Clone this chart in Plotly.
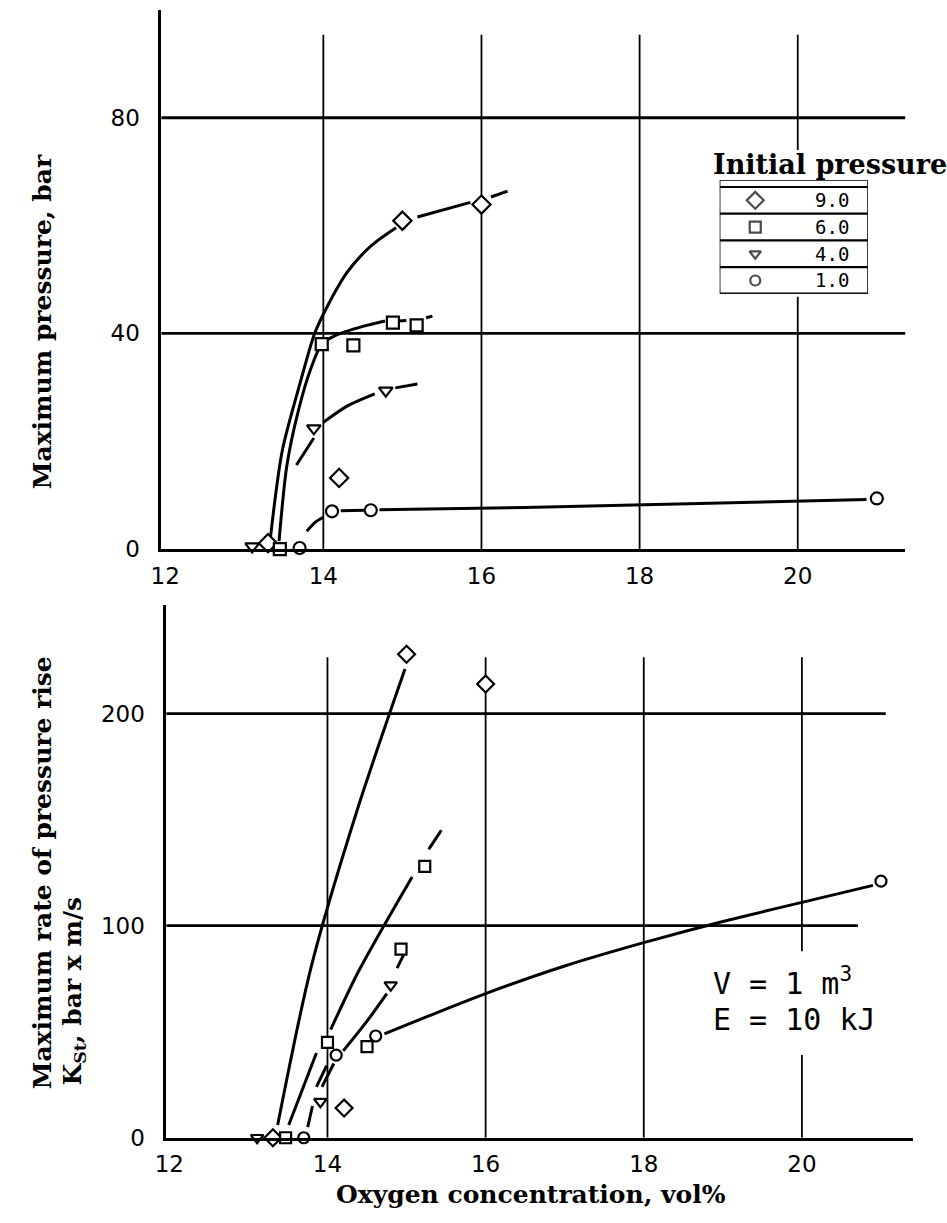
import plotly.graph_objects as go

W, H = 947, 1223


def fx(px):
    return px / W


def fy(py):
    return 1 - py / H


# ---------------- tick labels / categories ----------------
oxygen_ticks = [12, 14, 16, 18, 20]
pmax_ticks = [0, 40, 80]
kst_ticks = [0, 100, 200]
initial_pressures = ["9.0", "6.0", "4.0", "1.0"]

# ---------------- top panel: maximum pressure, bar ----------------
pmax_9_x = [13.3, 14.2, 15.0, 16.0]
pmax_9_y = [1.1, 13.2, 60.9, 63.9]
pmax_6_x = [13.45, 13.98, 14.38, 14.88, 15.18]
pmax_6_y = [0.0, 38.0, 37.8, 42.0, 41.5]
pmax_4_x = [13.1, 13.88, 14.79]
pmax_4_y = [0.5, 22.4, 29.4]
pmax_1_x = [13.7, 14.11, 14.6, 21.0]
pmax_1_y = [0.2, 7.0, 7.2, 9.4]

# hand-drawn trend curves (pieces)
pmax_9_curve = [
    ([13.33, 13.48, 13.71, 13.89, 14.05, 14.3, 14.6, 14.92], [2, 18.2, 31.0, 40.0, 45.0, 51.3, 56.2, 59.6]),
    ([15.19, 15.86], [61.6, 64.3]),
    ([16.12, 16.33], [65.3, 66.4]),
]
pmax_6_curve = [
    ([13.44, 13.54, 13.69, 13.84, 13.98, 14.15, 14.5, 14.78], [1.5, 15.6, 26.0, 33.4, 38.0, 39.6, 41.3, 42.3]),
    ([14.95, 15.05], [42.3, 42.4]),
    ([15.3, 15.38], [42.9, 43.2]),
]
pmax_4_curve = [
    ([13.66, 13.88], [15.6, 20.6]),
    ([14.0, 14.31, 14.65], [23.5, 26.6, 28.8]),
    ([14.91, 15.19], [29.9, 30.6]),
]
pmax_1_curve = [
    ([13.79, 13.9, 14.0], [3.3, 5.0, 5.9]),
    ([14.22, 14.52], [7.1, 7.2]),
    ([14.71, 16.55, 20.87], [7.3, 7.7, 9.2]),
]

# ---------------- bottom panel: K_St, bar m/s ----------------
kst_9_x = [13.31, 14.21, 15.0, 16.0]
kst_9_y = [0, 14, 228, 214]
kst_6_x = [13.47, 14.0, 14.5, 14.93, 15.23]
kst_6_y = [0, 45, 43, 89, 128]
kst_4_x = [13.11, 13.91, 14.8]
kst_4_y = [0, 17, 72]
kst_1_x = [13.7, 14.11, 14.61, 21.0]
kst_1_y = [0, 39, 48, 121]

kst_9_curve = [
    ([13.37, 13.79, 14.38, 14.98], [6, 80, 155, 221]),
]
kst_6_curve = [
    ([13.51, 13.86], [6, 40]),
    ([14.04, 14.4, 15.07], [51, 79, 123]),
    ([15.28, 15.44], [136, 145]),
]
kst_4_curve = [
    ([13.86, 13.99], [24, 34]),
    ([14.2, 14.5, 14.75], [41, 55, 68]),
    ([14.88, 14.96], [80, 86]),
]
kst_1_curve = [
    ([13.75, 13.81], [5, 15]),
    ([13.93, 14.08], [24, 35]),
    ([14.72, 15.25, 16.0, 17.0, 18.0, 19.0, 20.0, 20.9], [49, 57, 68, 81, 92, 102, 111, 119]),
]

# ---------------- figure ----------------
fig = go.Figure()

LINE_W = 3.0
SYM = {"9.0": "diamond", "6.0": "square", "4.0": "triangle-down", "1.0": "circle"}
SIZE_TOP = {"9.0": 14, "6.0": 12, "4.0": 12, "1.0": 12}
SIZE_BOT = {"9.0": 13, "6.0": 11, "4.0": 11, "1.0": 11}


def add_curve(pieces, xa, ya):
    for xs, ys in pieces:
        fig.add_trace(go.Scatter(
            x=xs, y=ys, xaxis=xa, yaxis=ya, mode="lines",
            line=dict(color="black", width=LINE_W, shape="spline", smoothing=0.8),
            showlegend=False, hoverinfo="skip"))


def add_points(xs, ys, key, xa, ya, sizes):
    fig.add_trace(go.Scatter(
        x=xs, y=ys, xaxis=xa, yaxis=ya, mode="markers",
        marker=dict(symbol=SYM[key], size=sizes[key], color="white",
                    line=dict(color="black", width=2.2)),
        showlegend=False, cliponaxis=False))


# top panel
for c in (pmax_9_curve, pmax_6_curve, pmax_4_curve, pmax_1_curve):
    add_curve(c, "x", "y")
for xs, ys, k in ((pmax_9_x, pmax_9_y, "9.0"), (pmax_6_x, pmax_6_y, "6.0"),
                  (pmax_4_x, pmax_4_y, "4.0"), (pmax_1_x, pmax_1_y, "1.0")):
    add_points(xs, ys, k, "x", "y", SIZE_TOP)

# bottom panel
for c in (kst_9_curve, kst_6_curve, kst_4_curve, kst_1_curve):
    add_curve(c, "x2", "y2")
for xs, ys, k in ((kst_9_x, kst_9_y, "9.0"), (kst_6_x, kst_6_y, "6.0"),
                  (kst_4_x, kst_4_y, "4.0"), (kst_1_x, kst_1_y, "1.0")):
    add_points(xs, ys, k, "x2", "y2", SIZE_BOT)

# legend table markers (overlay axis x3/y3 in local pixel units)
leg_row_y = [20.5, 47.5, 74.5, 101.5]
fig.add_trace(go.Scatter(
    x=[36] * len(initial_pressures), y=leg_row_y, xaxis="x3", yaxis="y3", mode="markers",
    marker=dict(symbol=[SYM[k] for k in initial_pressures], size=[13, 11, 10, 10],
                color="white", line=dict(color="black", width=2.2)),
    showlegend=False, hoverinfo="skip", cliponaxis=False))

# ---------------- axes ----------------
TICKFONT = dict(family="DejaVu Sans", size=23, color="black")
TOP_XR = [11.95, 21.3625]
BOT_XR = [11.96, 21.41]
TOP_YR = [0, 100]
BOT_YR = [0, 251]

common_x = dict(showgrid=False, zeroline=False, showline=True, linecolor="black",
                linewidth=3, ticks="", tickfont=TICKFONT, tickvals=oxygen_ticks,
                ticktext=[str(v) for v in oxygen_ticks], ticklabelstandoff=4, fixedrange=True)
common_y = dict(showgrid=False, zeroline=False, showline=True, linecolor="black",
                linewidth=2.5, ticks="", tickfont=TICKFONT, ticklabelstandoff=14, fixedrange=True)

fig.update_layout(
    width=W, height=H, margin=dict(l=0, r=0, t=0, b=0),
    paper_bgcolor="white", plot_bgcolor="rgba(0,0,0,0)",
    showlegend=False,
    xaxis=dict(common_x, domain=[fx(152), fx(905)], range=TOP_XR, anchor="y"),
    yaxis=dict(common_y, domain=[fy(555), fy(10)], range=TOP_YR, anchor="x",
               tickvals=pmax_ticks, ticktext=[str(v) for v in pmax_ticks]),
    xaxis2=dict(common_x, domain=[fx(157), fx(913)], range=BOT_XR, anchor="y2"),
    yaxis2=dict(common_y, domain=[fy(1150), fy(612)], range=BOT_YR, anchor="x2",
                tickvals=kst_ticks, ticktext=[str(v) for v in kst_ticks]),
    xaxis3=dict(domain=[fx(717), fx(867)], range=[0, 150], anchor="y3", visible=False, fixedrange=True),
    yaxis3=dict(domain=[fy(297), fy(182)], range=[115, 0], anchor="x3", visible=False, fixedrange=True),
)

# ---------------- grid lines (shapes) ----------------
shapes = []
GRID_H = dict(color="black", width=2.8)
GRID_V = dict(color="black", width=1.8)
# top panel
for v in (40, 80):
    shapes.append(dict(type="line", xref="x", yref="y", x0=TOP_XR[0], x1=TOP_XR[1], y0=v, y1=v,
                       line=GRID_H, layer="below"))
for v in (14, 16, 18):
    shapes.append(dict(type="line", xref="x", yref="y", x0=v, x1=v, y0=0, y1=95.4,
                       line=GRID_V, layer="below"))
shapes.append(dict(type="line", xref="x", yref="y", x0=20, x1=20, y0=74.0, y1=95.4, line=GRID_V, layer="below"))
shapes.append(dict(type="line", xref="x", yref="y", x0=20, x1=20, y0=0, y1=46.8, line=GRID_V, layer="below"))
# bottom panel
shapes.append(dict(type="line", xref="x2", yref="y2", x0=BOT_XR[0], x1=21.06, y0=200, y1=200,
                   line=GRID_H, layer="below"))
shapes.append(dict(type="line", xref="x2", yref="y2", x0=BOT_XR[0], x1=20.71, y0=100, y1=100,
                   line=GRID_H, layer="below"))
for v in (14, 16, 18):
    shapes.append(dict(type="line", xref="x2", yref="y2", x0=v, x1=v, y0=0, y1=226.6,
                       line=GRID_V, layer="below"))
shapes.append(dict(type="line", xref="x2", yref="y2", x0=20, x1=20, y0=88, y1=226.6, line=GRID_V, layer="below"))
shapes.append(dict(type="line", xref="x2", yref="y2", x0=20, x1=20, y0=0, y1=39, line=GRID_V, layer="below"))

# legend table frame
shapes.append(dict(type="rect", xref="x3", yref="y3", x0=0, x1=150, y0=0, y1=115,
                   line=dict(color="black", width=1.5), fillcolor="white", layer="below"))
for yy in (7, 34, 61, 88):
    shapes.append(dict(type="line", xref="x3", yref="y3", x0=0, x1=150, y0=yy, y1=yy,
                       line=dict(color="black", width=2.2)))
shapes.append(dict(type="line", xref="x3", yref="y3", x0=0, x1=150, y0=115, y1=115,
                   line=dict(color="black", width=2.5)))
fig.update_layout(shapes=shapes)

# ---------------- annotations ----------------
TITLE_FONT = dict(family="DejaVu Serif", size=25, color="black", weight="bold")
MONO = dict(family="DejaVu Sans Mono", size=30, color="black")
ann = []
ann.append(dict(text="Maximum pressure, bar", textangle=-90, xref="paper", yref="paper",
                x=fx(32), y=fy(325), xanchor="center", yanchor="middle", showarrow=False, font=TITLE_FONT))
ann.append(dict(text="Maximum rate of pressure rise", textangle=-90, xref="paper", yref="paper",
                x=fx(32), y=fy(882), xanchor="center", yanchor="middle", showarrow=False, font=TITLE_FONT))
ann.append(dict(text="K<sub>St</sub>, bar x m/s", textangle=-90, xref="paper", yref="paper",
                x=fx(64), y=fy(1002), xanchor="center", yanchor="middle", showarrow=False, font=TITLE_FONT))
ann.append(dict(text="Oxygen concentration, vol%", xref="paper", yref="paper",
                x=fx(526), y=fy(1207), xanchor="center", yanchor="middle", showarrow=False, font=TITLE_FONT))
ann.append(dict(text="Initial pressure", xref="paper", yref="paper",
                x=fx(829), y=fy(166), xanchor="center", yanchor="middle", showarrow=False,
                font=dict(TITLE_FONT, size=27)))
for lab, yy in zip(initial_pressures, leg_row_y):
    ann.append(dict(text=lab, xref="x3", yref="y3", x=133, y=yy, xanchor="right", yanchor="middle",
                    showarrow=False, font=dict(family="DejaVu Sans Mono", size=19, color="black")))
ann.append(dict(text="V = 1 m<sup>3</sup>", xref="paper", yref="paper", x=fx(708), y=fy(992),
                xanchor="left", yanchor="middle", showarrow=False, font=MONO))
ann.append(dict(text="E = 10 kJ", xref="paper", yref="paper", x=fx(708), y=fy(1030),
                xanchor="left", yanchor="middle", showarrow=False, font=MONO))
fig.update_layout(annotations=ann)

fig.write_html("out.html")
